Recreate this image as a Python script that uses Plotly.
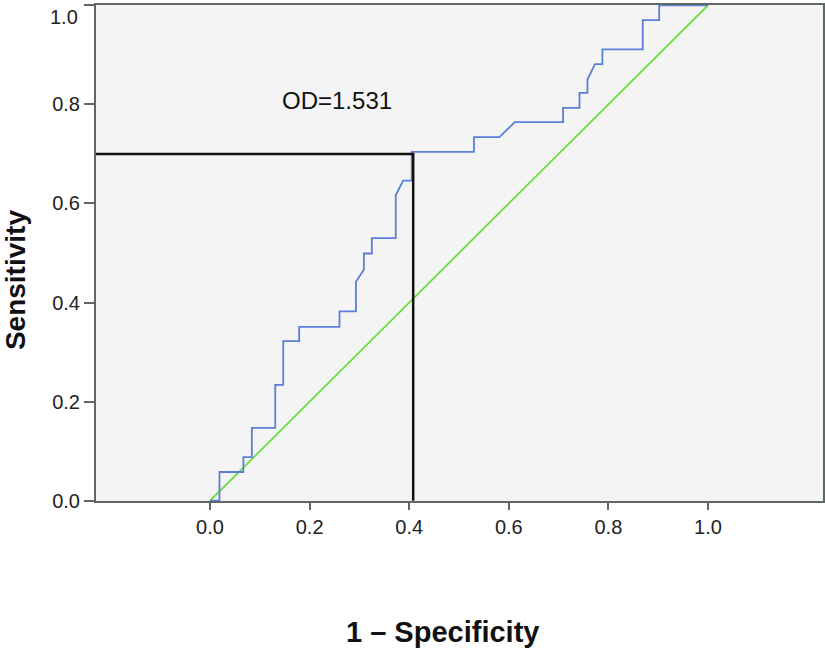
import plotly.graph_objects as go

# ROC curve points (1 - specificity, sensitivity)
fpr = [0.0, 0.019, 0.019, 0.067, 0.067, 0.084, 0.084, 0.131, 0.131, 0.147, 0.147,
       0.179, 0.179, 0.260, 0.260, 0.293, 0.293, 0.309, 0.309, 0.325, 0.325,
       0.373, 0.373, 0.388, 0.405, 0.405, 0.530, 0.530, 0.581, 0.612, 0.709,
       0.709, 0.742, 0.742, 0.758, 0.758, 0.773, 0.788, 0.788, 0.869, 0.869,
       0.902, 0.902, 1.0]
tpr = [0.0, 0.0, 0.058, 0.058, 0.088, 0.088, 0.147, 0.147, 0.234, 0.234, 0.322,
       0.322, 0.351, 0.351, 0.382, 0.382, 0.442, 0.466, 0.499, 0.499, 0.530,
       0.530, 0.617, 0.646, 0.646, 0.704, 0.704, 0.734, 0.734, 0.764, 0.764,
       0.793, 0.793, 0.823, 0.823, 0.850, 0.881, 0.881, 0.911, 0.911, 0.970,
       0.970, 1.0, 1.0]

ref_x = [0.0, 1.0]
ref_y = [0.0, 1.0]

# cutoff marker
cut_fpr = 0.408
cut_tpr = 0.700
cut_label = "OD=1.531"

ticks = [0.0, 0.2, 0.4, 0.6, 0.8, 1.0]
tick_text = ["0.0", "0.2", "0.4", "0.6", "0.8", "1.0"]

x_min, x_max = -0.229, 1.231

fig = go.Figure()

fig.add_trace(go.Scatter(x=ref_x, y=ref_y, mode="lines",
                         line=dict(color="#6ade3e", width=1.8), showlegend=False))
fig.add_trace(go.Scatter(x=fpr, y=tpr, mode="lines",
                         line=dict(color="#5a7fd8", width=1.8), showlegend=False))
fig.add_trace(go.Scatter(x=[x_min, cut_fpr, cut_fpr], y=[cut_tpr, cut_tpr, 0],
                         mode="lines", line=dict(color="#111111", width=2.5),
                         showlegend=False))

fig.add_annotation(x=0.255, y=0.808, text=cut_label, showarrow=False,
                   xanchor="center", yanchor="middle",
                   font=dict(family="Liberation Sans", size=24, color="#111111"))
fig.add_annotation(xref="paper", yref="paper", x=0.477, y=-0.264,
                   xanchor="center", yanchor="middle",
                   text="<b>1 – Specificity</b>", showarrow=False,
                   font=dict(family="Liberation Sans", size=29, color="#111111"))
fig.add_annotation(xref="paper", yref="paper", x=-0.111, y=0.446,
                   xanchor="center", yanchor="middle",
                   text="<b>Sensitivity</b>", showarrow=False, textangle=-90,
                   font=dict(family="Liberation Sans", size=28, color="#111111"))

# top y tick label sits just below the edge of the page, as in the source
fig.add_annotation(xref="paper", yref="paper", x=-0.024, y=1.0,
                   xanchor="right", yanchor="top", borderpad=0,
                   text=tick_text[-1], showarrow=False,
                   font=dict(family="Liberation Sans", size=20, color="#222222"))

axis_style = dict(showgrid=False, zeroline=False, showline=True, mirror=True,
                  linecolor="#5f6767", linewidth=2, ticks="outside",
                  tickcolor="#5f6767", tickwidth=2, automargin=False,
                  tickfont=dict(family="Liberation Sans", size=20, color="#222222"))

fig.update_xaxes(range=[x_min, x_max], tickvals=ticks, ticktext=tick_text,
                 ticklen=7, **axis_style)
fig.update_yaxes(range=[-0.0005, 1.0005], tickvals=ticks,
                 ticktext=tick_text[:-1] + [""], ticklen=10, **axis_style)

fig.update_layout(width=825, height=649,
                  margin=dict(l=96, r=2, t=5, b=148, autoexpand=False),
                  plot_bgcolor="#f4f4f4", paper_bgcolor="white")

fig.write_html("out.html", config={"displayModeBar": False},
               post_script="document.body.style.margin='0px';")
